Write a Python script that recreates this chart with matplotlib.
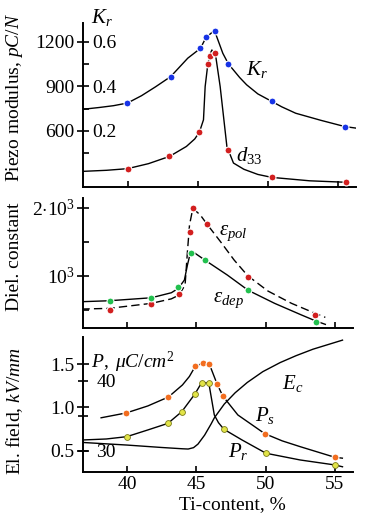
import matplotlib
matplotlib.use('Agg')
import matplotlib.pyplot as plt
from matplotlib.ticker import FixedLocator, FixedFormatter

plt.rcParams['font.family'] = ['Liberation Serif', 'DejaVu Serif']
plt.rcParams['mathtext.fontset'] = 'custom'
plt.rcParams['mathtext.rm'] = 'Liberation Serif'
plt.rcParams['mathtext.it'] = 'Liberation Serif:italic'
plt.rcParams['mathtext.bf'] = 'Liberation Serif:bold'

# ---------------- data ----------------
# top panel: K_r (right scale) and d33 (pC/N)
kr_pts_x = [39.95, 43.08, 45.2, 45.6, 46.25, 47.2, 50.3, 55.5]
kr_pts_y = [0.325, 0.444, 0.571, 0.624, 0.649, 0.501, 0.332, 0.219]
kr_curve_x = [36.85, 38.0, 39.0, 40.0, 41.0, 42.0, 43.08, 44.3, 45.2, 45.6, 46.2, 46.8, 47.2, 48.0, 48.5, 49.3, 50.3, 51.0, 52.0, 53.8, 55.5, 56.3]
kr_curve_y = [0.297, 0.305, 0.313, 0.325, 0.358, 0.398, 0.444, 0.527, 0.571, 0.620, 0.652, 0.549, 0.501, 0.440, 0.407, 0.366, 0.332, 0.308, 0.279, 0.247, 0.219, 0.212]

d33_pts_x = [40.0, 42.99, 45.13, 45.73, 45.9, 46.25, 47.2, 50.3, 55.6]
d33_pts_y = [344, 427, 591, 1050, 1106, 1128, 467, 285, 252]
d33_curve_x = [36.85, 38.5, 40.0, 41.5, 43.0, 44.2, 44.8, 45.13, 45.42, 45.54, 45.73, 45.9, 46.02, 46.3, 46.61, 47.09, 47.56, 48.3, 49.3, 50.3, 53.0, 55.6]
d33_curve_y = [326, 333, 344, 378, 427, 494, 545, 591, 674, 899, 1050, 1120, 1146, 1100, 899, 494, 382, 340, 305, 285, 262, 252]

# middle panel: dielectric constant
epol_pts_x = [38.76, 41.76, 43.75, 44.51, 44.73, 45.78, 48.71, 53.58]
epol_pts_y = [490, 578, 735, 1647, 1991, 1757, 985, 422]
epol_curve_x = [36.71, 38.71, 41.76, 43.2, 43.75, 44.19, 44.36, 44.51, 44.75, 45.29, 45.78, 46.75, 47.73, 48.71, 50.17, 51.87, 53.58, 54.31]
epol_curve_y = [510, 520, 594, 660, 716, 863, 1353, 1746, 1991, 1893, 1756, 1500, 1231, 1000, 775, 594, 447, 388]

edep_pts_x = [38.76, 41.76, 43.70, 44.63, 45.65, 48.75, 53.63]
edep_pts_y = [632, 676, 838, 1338, 1226, 785, 324]
edep_curve_x = [36.71, 38.71, 41.76, 43.2, 43.70, 44.14, 44.36, 44.56, 44.75, 45.65, 47.24, 48.75, 50.65, 52.6, 53.63, 54.31]
edep_curve_y = [618, 632, 676, 750, 814, 936, 1157, 1328, 1353, 1226, 1010, 785, 594, 422, 334, 285]

# bottom panel: polarisation (uC/cm2) and coercive field (kV/mm)
ps_pts_x = [39.94, 42.99, 44.94, 45.46, 45.94, 46.49, 46.91, 49.94, 54.99]
ps_pts_y = [35.39, 37.67, 42.1, 42.48, 42.38, 39.57, 37.81, 32.43, 29.06]
ps_curve_x = [38.13, 39.94, 41.5, 42.99, 44.0, 44.5, 44.94, 45.46, 45.94, 46.49, 46.91, 48.0, 49.94, 51.2, 52.5, 54.99, 55.54]
ps_curve_y = [34.7, 35.39, 36.39, 37.67, 39.39, 40.6, 42.1, 42.48, 42.38, 39.57, 37.81, 35.1, 32.43, 31.4, 30.57, 29.06, 28.93]

pr_pts_x = [39.98, 42.95, 43.95, 44.9, 45.38, 45.9, 46.99, 50.03, 55.0]
pr_pts_y = [32.0, 33.9, 35.57, 38.1, 39.7, 39.7, 33.06, 29.63, 27.96]
pr_curve_x = [36.82, 38.5, 39.98, 41.5, 42.95, 43.95, 44.9, 45.38, 45.9, 46.1, 46.3, 46.6, 46.99, 48.3, 50.03, 52.5, 55.0, 55.55]
pr_curve_y = [31.53, 31.67, 32.0, 32.96, 33.9, 35.57, 38.1, 39.7, 39.7, 37.4, 35.1, 34.0, 33.06, 31.53, 29.63, 28.67, 27.96, 27.7]

ec_curve_x = [36.82, 40.0, 42.5, 44.0, 44.41, 44.8, 45.12, 45.6, 46.07, 46.3, 47.02, 47.8, 48.68, 49.8, 51.05, 52.2, 53.42, 55.55]
ec_curve_y = [0.595, 0.565, 0.537, 0.522, 0.519, 0.535, 0.576, 0.680, 0.81, 0.880, 1.040, 1.170, 1.29, 1.415, 1.52, 1.600, 1.675, 1.78]

x_ticks = [40, 45, 50, 55]
x_ticklabels = ['40', '45', '50', '55']
d33_ticks = [600, 900, 1200]
d33_minor = [450, 750, 1050]
kr_ticks = [0.2, 0.4, 0.6]
eps_ticks = [1000, 2000]
eps_ticklabels = [r'$10^3$', r'$2{\cdot}10^3$']
eps_minor = [500, 1500]
ef_ticks = [0.5, 1.0, 1.5]
p_ticks = [30, 35, 40]
p_ticklabels = ['30', '', '40']

# ---------------- styling ----------------
BLUE = '#1733e6'
RED = '#d21f1f'
GREEN = '#22c04e'
ORANGE = '#f26d1f'
YELLOW = '#e2e447'
YEDGE = '#7a7a1a'
FS = 14
LW = 1.0

fig = plt.figure(figsize=(3.84, 5.23), dpi=100)
ax1 = fig.add_axes([0.216, 0.6424, 0.711, 0.3136])
ax2 = fig.add_axes([0.216, 0.3728, 0.703, 0.2486])
ax3 = fig.add_axes([0.216, 0.0975, 0.703, 0.2581])

XLIM = (36.82, 56.3)
for ax in (ax1, ax2, ax3):
    ax.set_xlim(*XLIM)
    for s in ('top', 'right'):
        ax.spines[s].set_visible(False)
    for s in ('left', 'bottom'):
        ax.spines[s].set_linewidth(1.4)
    ax.set_xticks(x_ticks)
    ax.tick_params(axis='x', direction='in', length=4, width=1.2)
    ax.tick_params(axis='y', which='major', direction='inout', length=8, width=1.2, labelsize=FS, pad=2)
    ax.tick_params(axis='y', which='minor', direction='in', length=4, width=1.2)
    ax.patch.set_alpha(0)

ax1.set_xticklabels([])
ax2.set_xticklabels([])
ax3.set_xticklabels(x_ticklabels, fontsize=FS)
ax3.tick_params(axis='x', pad=3)

# ---- top panel ----
D_LO, D_HI = 220, 1328
ax1.set_ylim(D_LO, D_HI)
ax1.set_yticks(d33_ticks)
ax1.yaxis.set_minor_locator(FixedLocator(d33_minor))
ax1k = ax1.twinx()
ax1k.set_ylim((D_LO - 300) / 1500, (D_HI - 300) / 1500)
for s in ax1k.spines.values():
    s.set_visible(False)
ax1k.spines['right'].set_position(('axes', 0))
ax1k.set_yticks(kr_ticks)
ax1k.set_yticklabels(['0.2', '0.4', '0.6'])
ax1k.tick_params(axis='y', length=0, pad=7, labelsize=FS)
ax1k.patch.set_alpha(0)

mk = dict(marker='o', ms=5.0, mec='white', mew=0.8, linestyle='none', zorder=5)
ax1k.plot(kr_curve_x, kr_curve_y, color='black', lw=LW, zorder=3)
ax1k.plot(kr_pts_x, kr_pts_y, color=BLUE, **mk)
ax1.plot(d33_curve_x, d33_curve_y, color='black', lw=LW, zorder=3)
ax1.plot(d33_pts_x, d33_pts_y, color=RED, **mk)

# ---- middle panel ----
ax2.set_ylim(231, 2143)
ax2.set_yticks(eps_ticks)
ax2.set_yticklabels(eps_ticklabels)
ax2.yaxis.set_minor_locator(FixedLocator(eps_minor))
ax2.plot(epol_curve_x, epol_curve_y, color='black', lw=LW, linestyle=(0, (6, 3)), zorder=3)
ax2.plot(edep_curve_x, edep_curve_y, color='black', lw=LW, zorder=3)
ax2.plot(epol_pts_x, epol_pts_y, color=RED, **mk)
ax2.plot(edep_pts_x, edep_pts_y, color=GREEN, **mk)

# ---- bottom panel ----
E_LO, E_HI = 0.253, 1.816
ax3.set_ylim(E_LO, E_HI)
ax3.set_yticks(ef_ticks)
ax3.set_yticklabels(['0.5', '1.0', '1.5'])
ax3p = ax3.twinx()
ax3p.set_ylim(30 + (E_LO - 0.5) * 12.34, 30 + (E_HI - 0.5) * 12.34)
for s in ax3p.spines.values():
    s.set_visible(False)
ax3p.spines['right'].set_position(('axes', 0))
ax3p.yaxis.set_major_locator(FixedLocator(p_ticks))
ax3p.yaxis.set_major_formatter(FixedFormatter(p_ticklabels))
ax3p.tick_params(axis='y', direction='inout', length=7, width=1.2, pad=6, labelsize=FS)
ax3p.patch.set_alpha(0)

ax3.plot(ec_curve_x, ec_curve_y, color='black', lw=LW, zorder=3)
ax3p.plot(ps_curve_x, ps_curve_y, color='black', lw=LW, zorder=3)
ax3p.plot(pr_curve_x, pr_curve_y, color='black', lw=LW, zorder=3)
ax3p.plot(ps_pts_x, ps_pts_y, color=ORANGE, **mk)
ax3p.plot(pr_pts_x, pr_pts_y, marker='o', ms=4.2, mfc=YELLOW, mec=YEDGE, mew=0.6,
          linestyle='none', zorder=5)

# ---------------- texts ----------------
W, H = 384.0, 523.0
def ft(x, y, s, **kw):
    kw.setdefault('fontsize', FS + 1)
    fig.text(x / W, 1 - y / H, s, ha='center', va='center', **kw)

ft(102, 18, r'$K_r$')
ft(257, 70, r'$K_r$')
ft(249, 155, r'$d_{33}$')
ft(233, 233, r'$\varepsilon_{pol}$')
ft(228, 300, r'$\varepsilon_{dep}$')
ft(133, 362, r'$P$, $\,\mu C/cm^2$', fontsize=FS)
ft(293, 383, r'$E_c$')
ft(265, 416, r'$P_s$')
ft(238, 452, r'$P_r$')

ft(15, 97, r'Piezo modulus, $pC/N$', rotation=90, fontsize=FS)
ft(15, 257, 'Diel. constant', rotation=90, fontsize=FS)
ft(15, 411, r'El. field, $kV/mm$', rotation=90, fontsize=FS)
ft(232, 505, 'Ti-content, %', fontsize=FS)

fig.savefig('out.png', dpi=100)
